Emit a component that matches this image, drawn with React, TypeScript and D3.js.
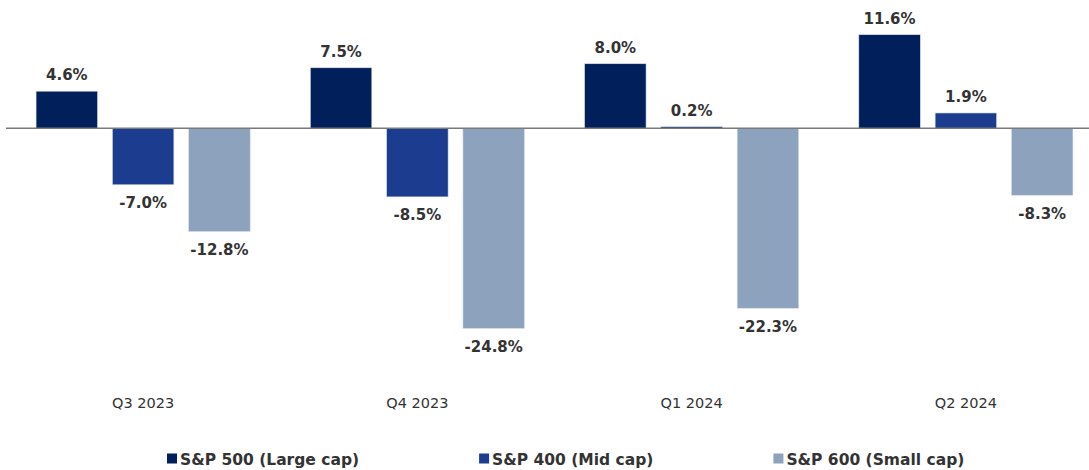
import { useRef, useEffect } from "react";
import * as d3 from "d3";

const quarters = ["Q3 2023", "Q4 2023", "Q1 2024", "Q2 2024"];
const seriesNames = ["S&P 500 (Large cap)", "S&P 400 (Mid cap)", "S&P 600 (Small cap)"];
const largeCap = [4.6, 7.5, 8.0, 11.6];
const midCap = [-7.0, -8.5, 0.2, 1.9];
const smallCap = [-12.8, -24.8, -22.3, -8.3];
const colors = ["#001f5b", "#1b3c8f", "#8da2bc"];

const W = 1089;
const H = 470;

export default function App() {
  const ref = useRef<SVGSVGElement>(null);

  useEffect(() => {
    const svg = d3.select(ref.current);
    svg.selectAll("*").remove();

    const values = [largeCap, midCap, smallCap];
    const rows = quarters.map((q, i) => ({
      quarter: q,
      bars: seriesNames.map((s, j) => ({ series: s, value: values[j][i], color: colors[j] })),
    }));

    const x0 = d3.scaleBand().domain(quarters).range([6, 1103]).padding(0);
    const x1 = d3
      .scaleBand()
      .domain(seriesNames)
      .range([0, x0.bandwidth()])
      .paddingInner(0.194)
      .paddingOuter(0.394);
    const y = d3.scaleLinear().domain([-30, 15]).range([128.3 + 30 * 8.07, 128.3 - 15 * 8.07]);

    const font = "'DejaVu Sans', sans-serif";

    const groups = svg
      .selectAll("g.grp")
      .data(rows)
      .join("g")
      .attr("class", "grp")
      .attr("transform", (d) => `translate(${x0(d.quarter)},0)`);

    groups
      .selectAll("rect")
      .data((d) => d.bars)
      .join("rect")
      .attr("x", (d) => x1(d.series)!)
      .attr("width", x1.bandwidth())
      .attr("y", (d) => y(Math.max(0, d.value)))
      .attr("height", (d) => Math.abs(y(d.value) - y(0)))
      .attr("fill", (d) => d.color)
      .attr("stroke", "#d9e0ea")
      .attr("stroke-width", 0.6);

    groups
      .selectAll("text.val")
      .data((d) => d.bars)
      .join("text")
      .attr("class", "val")
      .attr("x", (d) => x1(d.series)! + x1.bandwidth() / 2)
      .attr("y", (d) => (d.value >= 0 ? y(d.value) - 11 : y(d.value) + 23.5))
      .attr("text-anchor", "middle")
      .attr("font-family", font)
      .attr("font-weight", "bold")
      .attr("font-size", 15)
      .attr("fill", "#333")
      .text((d) => `${d.value.toFixed(1)}%`);

    groups
      .append("text")
      .attr("x", x0.bandwidth() / 2)
      .attr("y", 408)
      .attr("text-anchor", "middle")
      .attr("font-family", font)
      .attr("font-size", 14.5)
      .attr("fill", "#333")
      .text((d) => d.quarter);

    svg
      .append("line")
      .attr("x1", 6)
      .attr("x2", W)
      .attr("y1", y(0))
      .attr("y2", y(0))
      .attr("stroke", "#7a7a7a")
      .attr("stroke-width", 1.5);

    // legend, laid out left to right from measured text widths
    const legend = svg.append("g");
    let cx = 167;
    seriesNames.forEach((name, i) => {
      const item = legend.append("g").attr("transform", `translate(${cx},0)`);
      item
        .append("rect")
        .attr("x", 0)
        .attr("y", 453.5)
        .attr("width", 10)
        .attr("height", 10)
        .attr("fill", colors[i]);
      const t = item
        .append("text")
        .attr("x", 13)
        .attr("y", 465)
        .attr("font-family", font)
        .attr("font-weight", "bold")
        .attr("font-size", 15.5)
        .attr("fill", "#333")
        .text(name);
      const w = (t.node() as SVGTextElement).getComputedTextLength();
      cx += 13 + w + 120;
    });
  }, []);

  return (
    <svg
      ref={ref}
      width={W}
      height={H}
      style={{ position: "absolute", left: 0, top: 0, background: "#fff" }}
    />
  );
}
